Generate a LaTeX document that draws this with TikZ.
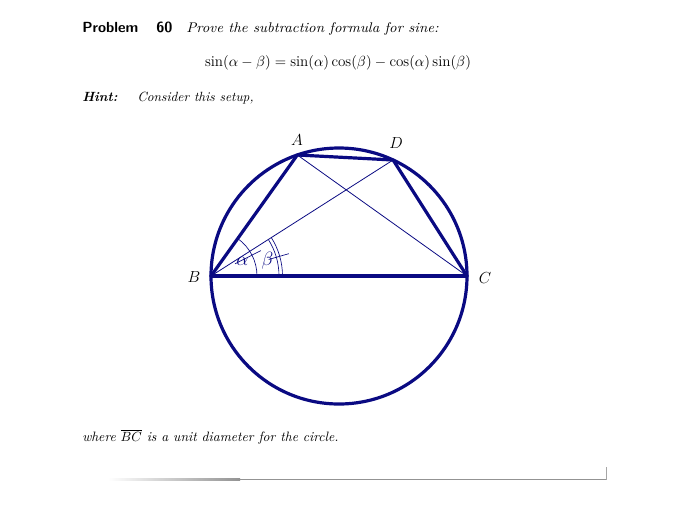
\documentclass[tikz,border=0pt]{standalone}
\usepackage{fontspec}
\usetikzlibrary{calc}
\begin{document}
\definecolor{navyc}{RGB}{10,10,130}
\tikzset{
  pt/.style={x=0.75pt,y=0.75pt},
  txt/.style={anchor=base west,inner sep=0pt,font=\fontsize{10}{12}\selectfont},
  thickln/.style={draw=navyc,line width=2.4pt,line join=round,line cap=round},
  thinln/.style={draw=navyc,line width=0.6pt},
  marks/.style={draw=navyc,line width=0.5pt},
  ptlabel/.style={inner sep=0pt,font=\fontsize{13}{15}\selectfont},
  anglabel/.style={inner sep=0pt,text=navyc,font=\fontsize{14.5}{16}\selectfont}
}
\begin{tikzpicture}[pt]
\path[use as bounding box] (0,0) rectangle (681,-508);
% header text
\node[txt,font=\fontsize{11}{13}\selectfont\sffamily\bfseries] (prob) at (82,-32) {Problem};
\node[txt,font=\fontsize{11}{13}\selectfont\sffamily\bfseries] (num) at (156,-32) {60};
\node[txt,font=\fontsize{10.5}{12}\selectfont\itshape] (stmt) at (186,-32) {\scalebox{1.06}[1]{Prove the subtraction formula for sine:}};
\node[anchor=base,inner sep=0pt,font=\fontsize{11.3}{13}\selectfont] (form) at (338,-66) {$\sin(\alpha-\beta)=\sin(\alpha)\cos(\beta)-\cos(\alpha)\sin(\beta)$};
\node[txt,font=\fontsize{10}{12}\selectfont\bfseries\itshape] (hint) at (82,-101) {Hint:};
\node[txt,font=\fontsize{10}{12}\selectfont\itshape] (cons) at (137,-101) {Consider this setup,};
\node[txt,font=\fontsize{10.2}{12}\selectfont\itshape] (where) at (82,-441) {where $\overline{BC}$ is a unit diameter for the circle.};
% geometry
\coordinate (O) at (339,-276);
\coordinate (B) at ($(O)+(180:128)$);
\coordinate (C) at ($(O)+(0:128)$);
\coordinate (A) at ($(O)+(109:128)$);
\coordinate (D) at ($(O)+(65:128)$);
\draw[thickln] (O) circle (128);
\draw[thinln] (B) -- (D);
\draw[thinln] (A) -- (C);
\draw[thickln] (B) -- (A) -- (D) -- (C);
\draw[thickln] (B) -- (C);
% angle marks
\draw[marks] ($(B)+(0:46)$) arc (0:54.5:46);
\draw[marks] ($(B)+(27:27)$) -- ($(B)+(27:56)$);
\draw[marks] ($(B)+(0:68)$) arc (0:32.5:68);
\draw[marks] ($(B)+(0:71.5)$) arc (0:32.5:71.5);
\draw[marks] ($(B)+(16:60)$) -- ($(B)+(16:81)$);
\node[anglabel] (alab) at ($(B)+(24.5:34.4)$) {$\alpha$};
\node[anglabel] (blab) at ($(B)+(14.9:58.5)$) {$\beta$};
% point labels
\node[ptlabel] (la) at (297,-140) {$A$};
\node[ptlabel] (ld) at (396,-143) {$D$};
\node[ptlabel] (lb) at (194,-277) {$B$};
\node[ptlabel] (lc) at (485,-278) {$C$};
% bottom rule
\shade[left color=white,right color=gray!85] (108,-478.5) rectangle (240,-480);
\fill[gray!85] (240,-478.5) rectangle (607,-480);
\fill[gray!70] (606,-467) rectangle (607.3,-480);
\end{tikzpicture}
\end{document}
